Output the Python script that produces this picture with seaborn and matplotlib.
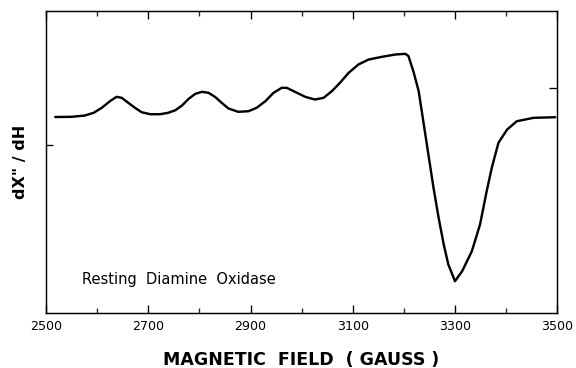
import numpy as np
import pandas as pd
import seaborn as sns
import matplotlib
matplotlib.use("Agg")
import matplotlib.pyplot as plt
from matplotlib.ticker import MultipleLocator

# EPR derivative spectrum (arbitrary units)
field = [2518, 2550, 2576, 2593, 2609, 2625, 2638, 2648, 2661, 2674,
         2687, 2704, 2723, 2739, 2753, 2766, 2779, 2792, 2805, 2818,
         2831, 2844, 2857, 2876, 2896, 2912, 2929, 2945, 2961, 2971,
         2987, 3007, 3026, 3043, 3059, 3075, 3092, 3111, 3131, 3157,
         3183, 3203, 3209, 3219, 3229, 3238, 3248, 3258, 3268, 3278,
         3287, 3300, 3314, 3333, 3349, 3362, 3372, 3385, 3402, 3421,
         3454, 3496]
signal = [0, 0.2, 1.5, 4.2, 9.2, 15.8, 20.2, 19.2, 14.2, 9.2,
          4.8, 2.8, 2.8, 4.2, 6.8, 11.5, 18.2, 23.2, 25.2, 24.2,
          20, 14, 8.5, 5.2, 5.8, 9.2, 15.8, 24.2, 29.2, 29.2,
          25.2, 20.2, 17.5, 19.2, 25.8, 34.2, 44.2, 52.5, 57.5, 60.2,
          62.5, 63.2, 61, 45, 25.8, -4.2, -37.5, -70.8, -100.8, -127.5,
          -147.5, -164.2, -154.2, -134.2, -107.5, -74.2, -50.8, -25.8, -12.5, -4.2,
          -0.8, -0.2]

xtick_labels = ["2500", "2700", "2900", "3100", "3300", "3500"]

df = pd.DataFrame({"field": field, "signal": signal})

sns.set_style("ticks")
plt.rcParams["font.family"] = ["DejaVu Sans"]
plt.rcParams["text.color"] = "black"
plt.rcParams["axes.labelcolor"] = "black"

fig = plt.figure(figsize=(6.0, 368 / 96), dpi=96)
ax = fig.add_axes([0.0799, 0.1495, 0.8875, 0.8205])

sns.lineplot(data=df, x="field", y="signal", color="black", linewidth=1.8,
             estimator=None, sort=False, ax=ax)

ax.set_xlim(2500, 3500)
ax.set_ylim(-196, 106)

ax.set_xticks([int(t) for t in xtick_labels])
ax.set_xticklabels(xtick_labels)
ax.xaxis.set_minor_locator(MultipleLocator(100))
# one tick mark on the left side, one on the right
ax.set_yticks([-28])
ax.set_yticks([29], minor=True)
ax.set_yticklabels([])

ax.tick_params(axis="x", which="major", direction="in", length=6, width=1,
               top=True, bottom=True, labelsize=9.5, pad=5, colors="black")
ax.tick_params(axis="x", which="minor", direction="in", length=4, width=1,
               top=True, bottom=True)
ax.tick_params(axis="y", which="major", direction="in", length=5, width=1,
               left=True, right=False, colors="black")
ax.tick_params(axis="y", which="minor", direction="in", length=6, width=1,
               left=False, right=True, colors="black")

for side in ax.spines.values():
    side.set_visible(True)
    side.set_color("black")
    side.set_linewidth(1.1)

ax.set_xlabel("MAGNETIC  FIELD  ( GAUSS )", fontsize=13, fontweight="bold",
              labelpad=14)
ax.set_ylabel('dX" / dH', fontsize=12, fontweight="bold", labelpad=10)

ax.text(2570, -163, "Resting  Diamine  Oxidase", fontsize=11,
        ha="left", va="center")

fig.savefig("out.png", dpi=96)
